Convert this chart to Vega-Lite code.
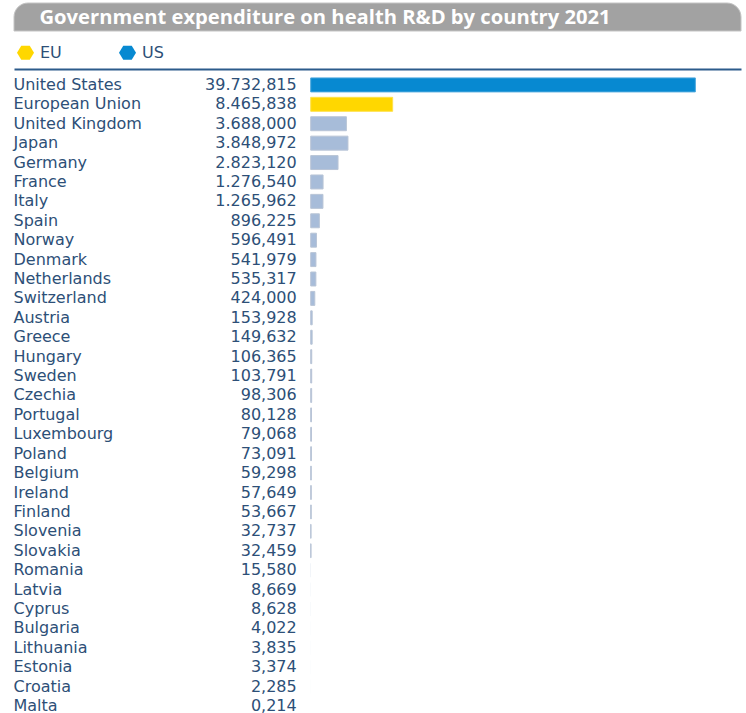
{
  "$schema": "https://vega.github.io/schema/vega-lite/v6.json",
  "padding": {"left": 13, "top": 2, "right": 0, "bottom": 0},
  "background": "white",
  "bounds": "flush",
  "spacing": 38,
  "config": {
    "view": {"stroke": null},
    "font": "DejaVu Sans"
  },
  "datasets": {
    "header": [{"title": "Government expenditure on health R&D by country 2021"}],
    "rows": [
      {"country": "United States", "value": 39.732815, "label": "39.732,815", "group": "US"},
      {"country": "European Union", "value": 8.465838, "label": "8.465,838", "group": "EU"},
      {"country": "United Kingdom", "value": 3.688, "label": "3.688,000", "group": "Other"},
      {"country": "Japan", "value": 3.848972, "label": "3.848,972", "group": "Other"},
      {"country": "Germany", "value": 2.82312, "label": "2.823,120", "group": "Other"},
      {"country": "France", "value": 1.27654, "label": "1.276,540", "group": "Other"},
      {"country": "Italy", "value": 1.265962, "label": "1.265,962", "group": "Other"},
      {"country": "Spain", "value": 0.896225, "label": "896,225", "group": "Other"},
      {"country": "Norway", "value": 0.596491, "label": "596,491", "group": "Other"},
      {"country": "Denmark", "value": 0.541979, "label": "541,979", "group": "Other"},
      {"country": "Netherlands", "value": 0.535317, "label": "535,317", "group": "Other"},
      {"country": "Switzerland", "value": 0.424, "label": "424,000", "group": "Other"},
      {"country": "Austria", "value": 0.153928, "label": "153,928", "group": "Other"},
      {"country": "Greece", "value": 0.149632, "label": "149,632", "group": "Other"},
      {"country": "Hungary", "value": 0.106365, "label": "106,365", "group": "Other"},
      {"country": "Sweden", "value": 0.103791, "label": "103,791", "group": "Other"},
      {"country": "Czechia", "value": 0.098306, "label": "98,306", "group": "Other"},
      {"country": "Portugal", "value": 0.080128, "label": "80,128", "group": "Other"},
      {"country": "Luxembourg", "value": 0.079068, "label": "79,068", "group": "Other"},
      {"country": "Poland", "value": 0.073091, "label": "73,091", "group": "Other"},
      {"country": "Belgium", "value": 0.059298, "label": "59,298", "group": "Other"},
      {"country": "Ireland", "value": 0.057649, "label": "57,649", "group": "Other"},
      {"country": "Finland", "value": 0.053667, "label": "53,667", "group": "Other"},
      {"country": "Slovenia", "value": 0.032737, "label": "32,737", "group": "Other"},
      {"country": "Slovakia", "value": 0.032459, "label": "32,459", "group": "Other"},
      {"country": "Romania", "value": 0.01558, "label": "15,580", "group": "Other"},
      {"country": "Latvia", "value": 0.008669, "label": "8,669", "group": "Other"},
      {"country": "Cyprus", "value": 0.008628, "label": "8,628", "group": "Other"},
      {"country": "Bulgaria", "value": 0.004022, "label": "4,022", "group": "Other"},
      {"country": "Lithuania", "value": 0.003835, "label": "3,835", "group": "Other"},
      {"country": "Estonia", "value": 0.003374, "label": "3,374", "group": "Other"},
      {"country": "Croatia", "value": 0.002285, "label": "2,285", "group": "Other"},
      {"country": "Malta", "value": 0.000214, "label": "0,214", "group": "Other"}
    ]
  },
  "vconcat": [
    {
      "width": 727,
      "height": 28,
      "data": {"name": "header"},
      "layer": [
        {
          "mark": {"type": "rect", "fill": "#a2a2a2", "stroke": "#c4c4c4", "strokeWidth": 1, "cornerRadiusTopLeft": 28, "cornerRadiusTopRight": 28},
          "encoding": {}
        },
        {
          "mark": {"type": "text", "color": "white", "font": "Open Sans", "fontSize": 20.2, "fontWeight": "bold", "align": "left", "baseline": "middle", "dx": -338, "dy": 1},
          "encoding": {"text": {"field": "title"}}
        }
      ]
    },
    {
      "width": 727,
      "height": 644,
      "data": {"name": "rows"},
      "encoding": {
        "y": {
          "field": "country",
          "type": "nominal",
          "sort": null,
          "scale": {"paddingInner": 0.28, "paddingOuter": 0.23, "align": 1},
          "axis": {
            "title": null,
            "domain": false,
            "ticks": false,
            "tickSize": 0,
            "labelAlign": "left",
            "labelPadding": 1,
            "labelFontSize": 16,
            "labelColor": "#2d4f77",
            "labelFont": "DejaVu Sans",
            "labelLimit": 300
          }
        }
      },
      "layer": [
        {
          "mark": {"type": "bar", "strokeWidth": 1},
          "encoding": {
            "x": {
              "field": "value",
              "type": "quantitative",
              "scale": {"domain": [-30.65, 44.45], "nice": false, "zero": false},
              "axis": {
                "orient": "top",
                "title": null,
                "labels": false,
                "ticks": false,
                "grid": false,
                "domain": true,
                "domainColor": "#2c5b8b",
                "domainWidth": 2
              }
            },
            "x2": {"datum": 0},
            "color": {
              "field": "group",
              "type": "nominal",
              "scale": {"domain": ["EU", "US", "Other"], "range": ["#ffd700", "#0789d1", "#a7bcd9"]},
              "legend": {
                "values": ["EU", "US"],
                "title": null,
                "orient": "none",
                "legendX": 3,
                "legendY": 41,
                "direction": "horizontal",
                "padding": 0,
                "symbolType": "M-1,0L-0.5,-0.82L0.5,-0.82L1,0L0.5,0.82L-0.5,0.82Z",
                "symbolSize": 289,
                "symbolStrokeWidth": 0,
                "labelFontSize": 16,
                "labelColor": "#2d4f77",
                "labelFont": "DejaVu Sans",
                "labelOffset": 6,
                "columnPadding": 57
              }
            },
            "stroke": {
              "field": "group",
              "type": "nominal",
              "scale": {"domain": ["EU", "US", "Other"], "range": ["#ffe14a", "#4aa6dc", "#b9c5d6"]},
              "legend": null
            },
            "strokeOpacity": {"condition": {"test": "datum.value < 0.02", "value": 0}, "value": 1}
          }
        },
        {
          "mark": {"type": "text", "align": "right", "dx": -14, "fontSize": 16, "font": "DejaVu Sans", "color": "#2d4f77"},
          "encoding": {
            "x": {"datum": 0, "type": "quantitative"},
            "text": {"field": "label"}
          }
        }
      ]
    }
  ]
}
